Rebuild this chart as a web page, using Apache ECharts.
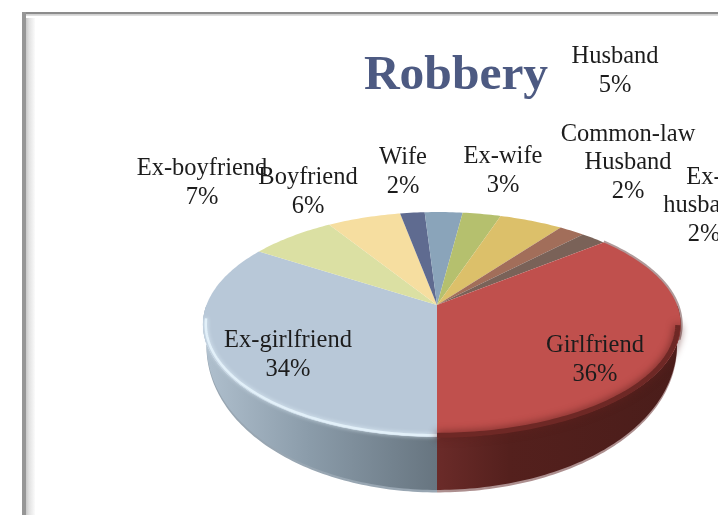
<!DOCTYPE html>
<html><head><meta charset="utf-8">
<style>html,body{margin:0;padding:0;background:#fff;overflow:hidden}#c{width:718px;height:515px}</style>
<script src="https://cdn.jsdelivr.net/npm/echarts@6/dist/echarts.min.js"></script>
</head><body><div id="c"></div>
<script>
// Clockwise from the bottom of the pie
const categories = ['Ex-girlfriend','Ex-boyfriend','Boyfriend','Wife','Ex-wife','','Husband','Common-law\nHusband','Ex-\nhusband','Girlfriend'];
const percents   = [34,7,6,2,3,3,5,2,2,36];
const colors     = ['#b8c8d8','#dbe0a3','#f6dea0','#5f6b90','#8aa4ba','#b5c06e','#dcc06a','#a26e5a','#7a6258','#c0504d'];
const labelAnchors = [[288,355],[202,183],[308,192],[403,172],[503,171],null,[615,71],[628,163],[704,206],[595,360]];

const apex = [437,305], rxL = 230.5, rxR = 240;
const persp = -0.1733, yA = 56.2;
function rim(deg){
  const r = deg*Math.PI/180, c = Math.cos(r), s = Math.sin(r), d = 1+persp*s;
  return [apex[0]+(c<0?rxL:rxR)*c/d, (yA*s+apex[1])/d];
}
const total = percents.reduce((a,b)=>a+b,0);
const Grad = echarts.graphic.LinearGradient;
const wallFill = [
  new Grad(203,0,436,0,[{offset:0,color:'#b0c0ce'},{offset:.45,color:'#8b9caa'},{offset:1,color:'#677580'}],true),
  new Grad(436,0,681,0,[{offset:0,color:'#6b2b29'},{offset:.3,color:'#54201d'},{offset:1,color:'#4a1d1a'}],true)
];
const edgeFill = ['#98a6b2','#ad8f8f'];
function wallPoint(a,extra){
  const p = rim(a), s = Math.max(Math.sin(a*Math.PI/180),0);
  return [apex[0]+(p[0]-apex[0])*.985, p[1]+12+41*s+extra];
}

function renderItem(params){
  const i = params.dataIndex;
  let before = 0; for(let k=0;k<i;k++) before += percents[k];
  const a0 = 90+before/total*360, a1 = a0+percents[i]/total*360;
  const arc = [];
  for(let a=a0;a<a1;a+=1) arc.push(a);
  arc.push(a1);
  const children = [];
  const low = arc.filter(a=>Math.sin(a*Math.PI/180)>=-0.001);
  const side = i===0?0:(i===categories.length-1?1:-1);
  if(side===1){
    const up = arc.filter(a=>Math.sin(a*Math.PI/180)<0.3 && Math.cos(a*Math.PI/180)>0.35);
    children.push({type:'polyline',z2:0,shape:{points:up.map(rim)},style:{stroke:'#b09a9a',lineWidth:4,fill:'none'}});
  }
  if(low.length>1 && side>=0){
    const top = low.map(rim);
    const bot = low.map(a=>wallPoint(a,0));
    const bot2 = low.map(a=>wallPoint(a,2.5));
    children.push({type:'polygon',z2:1,shape:{points:top.concat(bot2.slice().reverse())},style:{fill:edgeFill[side]}});
    children.push({type:'polygon',z2:2,shape:{points:top.concat(bot.slice().reverse())},style:{fill:wallFill[side]}});
  }
  children.push({type:'polygon',z2:3,shape:{points:[apex].concat(arc.map(rim))},style:{fill:colors[i]}});
  if(low.length>1 && side>=0){
    const edge = low.filter(a=>Math.sin(a*Math.PI/180)>=(side===0?0.12:0.18));
    const inner = edge.map(a=>{const p=rim(a);return [p[0]+(apex[0]-p[0])*.012,p[1]+(apex[1]-p[1])*.012];});
    children.push({type:'polyline',z2:4,shape:{points:inner},style:side===0
      ?{stroke:'#e2f0f9',lineWidth:2.5,fill:'none',shadowBlur:4,shadowColor:'#e2f0f9'}
      :{stroke:'#6e2825',lineWidth:5,fill:'none',shadowBlur:9,shadowColor:'#5e211e'}});
  }
  const at = labelAnchors[i];
  if(at && categories[i]){
    children.push({type:'text',z2:10,x:at[0],y:at[1],style:{
      text:categories[i]+'\n'+percents[i]+'%',
      font:'24.5px "Liberation Serif",serif',fill:'#1c1c1c',
      align:'center',verticalAlign:'middle',lineHeight:28.5}});
  }
  return {type:'group',children};
}

const chart = echarts.init(document.getElementById('c'),null,{renderer:'canvas'});
chart.setOption({
  animation:false,
  backgroundColor:'#fff',
  title:{text:'Robbery',left:451,top:46,textAlign:'center',
    textStyle:{fontFamily:'"Liberation Serif",serif',fontWeight:'bold',fontSize:49.5,color:'#4d5a82'}},
  graphic:[
    {type:'rect',z:-1,shape:{x:22,y:12,width:696,height:2.5},style:{fill:'#8c8c8c'}},
    {type:'rect',z:-1,shape:{x:26,y:14.5,width:692,height:1.5},style:{fill:'#dddddd'}},
    {type:'rect',z:-1,shape:{x:22,y:12,width:4,height:503},style:{fill:'#969696'}},
    {type:'rect',z:-1,shape:{x:26,y:18,width:9,height:497},style:{fill:new Grad(0,0,1,0,[{offset:0,color:'#c8c8c8'},{offset:.35,color:'#e2e2e2'},{offset:1,color:'#fbfbfb'}])}}
  ],
  series:[{type:'custom',coordinateSystem:'none',renderItem,clip:false,
    data:percents.map((v,i)=>({name:categories[i],value:v}))}]
});
</script></body></html>
